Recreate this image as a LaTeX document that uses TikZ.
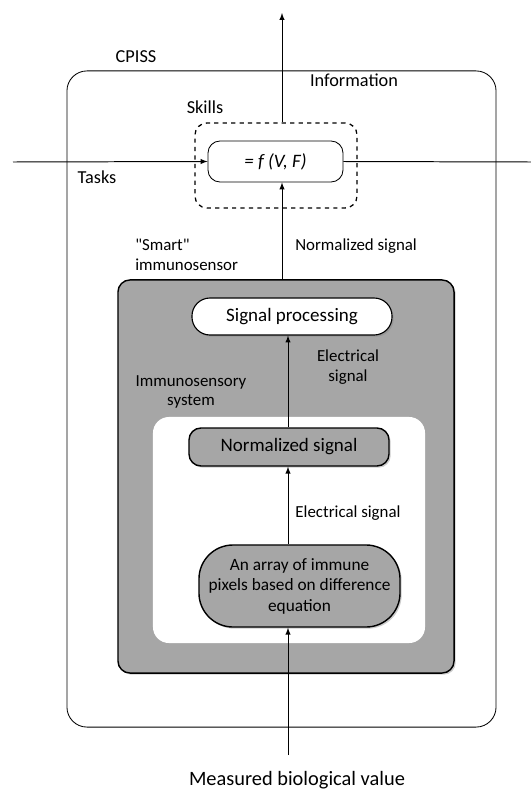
\documentclass[tikz,border=0pt]{standalone}
\usepackage{fontspec}
\setmainfont{Carlito}[Ligatures=TeXOff]
\usetikzlibrary{arrows,shadows}

\definecolor{boxgray}{RGB}{166,166,166}

\tikzset{
  lbl/.style={font=\fontsize{13}{15}\selectfont, align=center, inner sep=0pt},
  slbl/.style={font=\fontsize{12}{14}\selectfont, align=center, inner sep=0pt},
  box/.style={draw, inner sep=0pt, font=\fontsize{13.5}{15}\selectfont, align=center},
  shade/.style={drop shadow={shadow xshift=1.2pt, shadow yshift=-1.2pt, opacity=0.4}},
  conn/.style={-latex, line width=0.7pt}
}

\begin{document}
\begin{tikzpicture}[x=0.025cm, y=-0.025cm]
\useasboundingbox (0,0) rectangle (531,789);

% outer system and skills
\node [draw, line width=0.6pt, rounded corners=0.5cm, minimum width=10.725cm, minimum height=16.4cm] (cpiss) at (281.5,399) {};
\node [lbl] (cpisslbl) at (136,57) {CPISS};
\node [box, dashed, line width=0.9pt, rounded corners=0.3cm, minimum width=4.05cm, minimum height=2.125cm] (skills) at (276,165.5) {};
\node [box, fill=white, line width=0.6pt, rounded corners=0.3cm, minimum width=3.375cm, minimum height=1.025cm] (fn) at (275.5,161.5) {\textit{= f (V, F)}};
\node [lbl] (skillslbl) at (205,107) {Skills};
\node [lbl] (infolbl) at (354,80) {Information};
\node [lbl] (taskslbl) at (97,177) {Tasks};

% smart immunosensor
\node [box, fill=boxgray, line width=1pt, rounded corners=0.3cm, shade, minimum width=8.4cm, minimum height=9.825cm] (smart) at (286,476.5) {};
\node [slbl, anchor=west, align=left] (smartlbl) at (135,255) {"Smart"\\immunosensor};
\node [box, fill=white, line width=0.8pt, rounded corners=0.45cm, shade, minimum width=5cm, minimum height=0.925cm] (sigproc) at (292,316.5) {Signal processing};
\node [box, draw=none, fill=white, rounded corners=0.4cm, minimum width=6.8cm, minimum height=5.65cm] (inner) at (289,530) {};
\node [slbl] (immlbl) at (191,392) {Immunosensory\\system};
\node [box, fill=boxgray, line width=1pt, rounded corners=0.3cm, shade, minimum width=5cm, minimum height=0.95cm] (norm) at (289,447) {Normalized signal};
\node [box, fill=boxgray, line width=1pt, rounded corners=0.85cm, shade, minimum width=5.025cm, minimum height=2.05cm, font=\fontsize{12.3}{14.6}\selectfont] (array) at (299.5,586) {An array of immune\\pixels based on difference\\equation};

% signal labels
\node [slbl, anchor=west] (normlbl) at (295,246) {Normalized signal};
\node [slbl] (el1lbl) at (348,367) {Electrical\\signal};
\node [slbl] (el2lbl) at (348,513) {Electrical signal};
\node [lbl, font=\fontsize{14.5}{16}\selectfont] (measlbl) at (297,780) {Measured biological value};

% free ends
\coordinate (top) at (282,13);
\coordinate (left) at (13,162);
\coordinate (right) at (531,162);
\coordinate (low) at (288,755);

% connectors
\draw [conn] (skills.north -| top) -- (top);
\draw [conn] (left) -- (fn.west);
\draw [line width=0.7pt] (fn.east) -- (right);
\draw [conn] (smart.north -| top) -- (fn.south -| top);
\draw [conn] (norm.north -| low) -- (sigproc.south -| low);
\draw [conn] (array.north -| low) -- (norm.south -| low);
\draw [conn] (low) -- (array.south -| low);

\end{tikzpicture}
\end{document}
